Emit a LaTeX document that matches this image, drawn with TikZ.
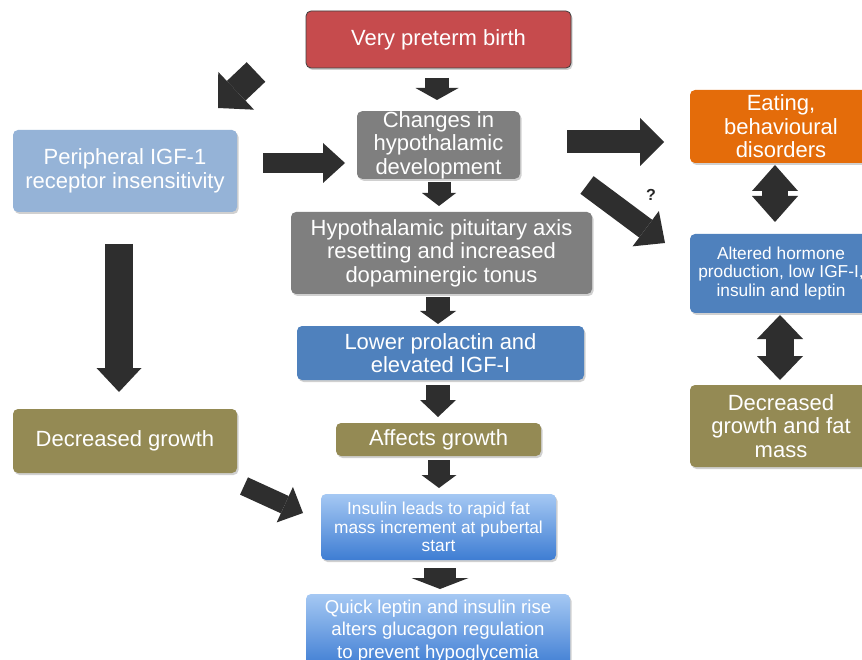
\documentclass[tikz,border=0pt]{standalone}
\usepackage{fontspec}
\setmainfont{Liberation Sans}
\usetikzlibrary{arrows.meta,shadows}
\definecolor{redb}{HTML}{C64B4D}
\definecolor{grayb}{HTML}{7F7F7F}
\definecolor{lblue}{HTML}{95B3D7}
\definecolor{blueb}{HTML}{4F81BD}
\definecolor{oliveb}{HTML}{948A54}
\definecolor{orangeb}{HTML}{E46C0A}
\definecolor{gtop}{HTML}{A5C8F3}
\definecolor{gbot}{HTML}{3E7DD3}
\definecolor{arrowc}{HTML}{2E2E2E}
\begin{document}
\begin{tikzpicture}[x=1pt,y=-1pt,
  box/.style={rounded corners=5pt, text=white, align=center, inner sep=0pt,
    drop shadow={shadow xshift=1.5pt, shadow yshift=-2pt, opacity=0.3, fill=black!60}},
  big/.style={font=\fontsize{22}{23.5}\selectfont},
  small/.style={font=\fontsize{17.3}{18.6}\selectfont},
  mid/.style={font=\fontsize{18.6}{22.5}\selectfont},
  grad/.style={top color=gtop, bottom color=gbot},
  arr/.style n args={3}{draw=arrowc, line width=#1pt,
    -{Triangle[width=#2pt,length=#3pt,line width=0pt]}},
  darr/.style n args={3}{draw=arrowc, line width=#1pt,
    {Triangle[width=#2pt,length=#3pt,line width=0pt]}-{Triangle[width=#2pt,length=#3pt,line width=0pt]}}
]
\fill[white] (0,0) rectangle (862,660);
\useasboundingbox (0,0) rectangle (862,660);
\clip (0,0) rectangle (862,660);

% nodes
\node[box, big, fill=redb, draw=black!75, line width=0.8pt, minimum width=265pt, minimum height=57pt] (pre) at (438.5,39.5) {Very preterm birth};
\node[box, big, fill=grayb, minimum width=163pt, minimum height=66pt] (chg) at (438.5,145) {Changes in\\hypothalamic\\development};
\node[box, big, fill=lblue, minimum width=224pt, minimum height=82pt] (per) at (125,171) {Peripheral IGF-1\\receptor insensitivity};
\node[box, big, fill=grayb, minimum width=301pt, minimum height=82pt] (hyp) at (441.5,253) {Hypothalamic pituitary axis\\resetting and increased\\dopaminergic tonus};
\node[box, big, fill=blueb, minimum width=287pt, minimum height=54pt] (low) at (440.5,353) {Lower prolactin and\\elevated IGF-I};
\node[box, big, fill=oliveb, minimum width=205pt, minimum height=33pt] (aff) at (438.5,439.5) {Affects growth};
\node[box, small, grad, minimum width=235pt, minimum height=66pt] (ins) at (438.5,527) {Insulin leads to rapid fat\\mass increment at pubertal\\start};
\node[box, mid, grad, minimum width=264pt, minimum height=74pt] (qck) at (438,631) {Quick leptin and insulin rise\\alters glucagon regulation\\to prevent hypoglycemia};
\node[box, big, fill=oliveb, minimum width=224pt, minimum height=64pt] (dec) at (125,441) {Decreased growth};
\node[box, big, fill=orangeb, minimum width=182pt, minimum height=73pt] (eat) at (781,126.5) {Eating,\\behavioural\\disorders};
\node[box, small, fill=blueb, minimum width=182pt, minimum height=79pt] (alt) at (781,273.5) {Altered hormone\\production, low IGF-I,\\insulin and leptin};
\node[box, big, fill=oliveb, minimum width=182pt, minimum height=82pt] (dgf) at (781,426) {Decreased\\growth and fat\\mass};
\node[font=\bfseries\fontsize{16}{16}\selectfont, text=black!85] (q) at (651,195) {?};

% connector end points
\coordinate (a1s) at (437,78);  \coordinate (a1e) at (437,100);
\coordinate (a2s) at (439,182); \coordinate (a2e) at (439,206);
\coordinate (a3s) at (438,297); \coordinate (a3e) at (438,324);
\coordinate (a4s) at (438,385); \coordinate (a4e) at (438,417);
\coordinate (a5s) at (439,460); \coordinate (a5e) at (439,488);
\coordinate (a6s) at (440,568); \coordinate (a6e) at (440,589);
\coordinate (a7s) at (263,163); \coordinate (a7e) at (345,163);
\coordinate (a8s) at (567,142); \coordinate (a8e) at (664,142);
\coordinate (a9s) at (587,185); \coordinate (a9e) at (665,243);
\coordinate (a10s) at (256,72); \coordinate (a10e) at (218,108);
\coordinate (a11s) at (119,244); \coordinate (a11e) at (119,392);
\coordinate (a12s) at (244,486); \coordinate (a12e) at (303,513);
\coordinate (d1s) at (775,165); \coordinate (d1e) at (775,222);
\coordinate (d2s) at (780,315); \coordinate (d2e) at (780,380);

% connectors
\draw[arr={24}{43}{12}] (a1s) -- (a1e);
\draw[arr={23}{34}{13}] (a2s) -- (a2e);
\draw[arr={24}{36}{13}] (a3s) -- (a3e);
\draw[arr={24}{36}{17}] (a4s) -- (a4e);
\draw[arr={22}{35}{13}] (a5s) -- (a5e);
\draw[arr={32}{57}{11}] (a6s) -- (a6e);
\draw[arr={20}{40}{22}] (a7s) -- (a7e);
\draw[arr={23}{48}{24}] (a8s) -- (a8e);
\draw[arr={22}{44}{24}] (a9s) -- (a9e);
\draw[arr={27}{52}{25}] (a10s) -- (a10e);
\draw[arr={28}{45}{24}] (a11s) -- (a11e);
\draw[arr={19}{39}{20}] (a12s) -- (a12e);
\draw[darr={26}{46}{26}] (d1s) -- (d1e);
\draw[darr={28}{46}{24}] (d2s) -- (d2e);
\end{tikzpicture}
\end{document}
